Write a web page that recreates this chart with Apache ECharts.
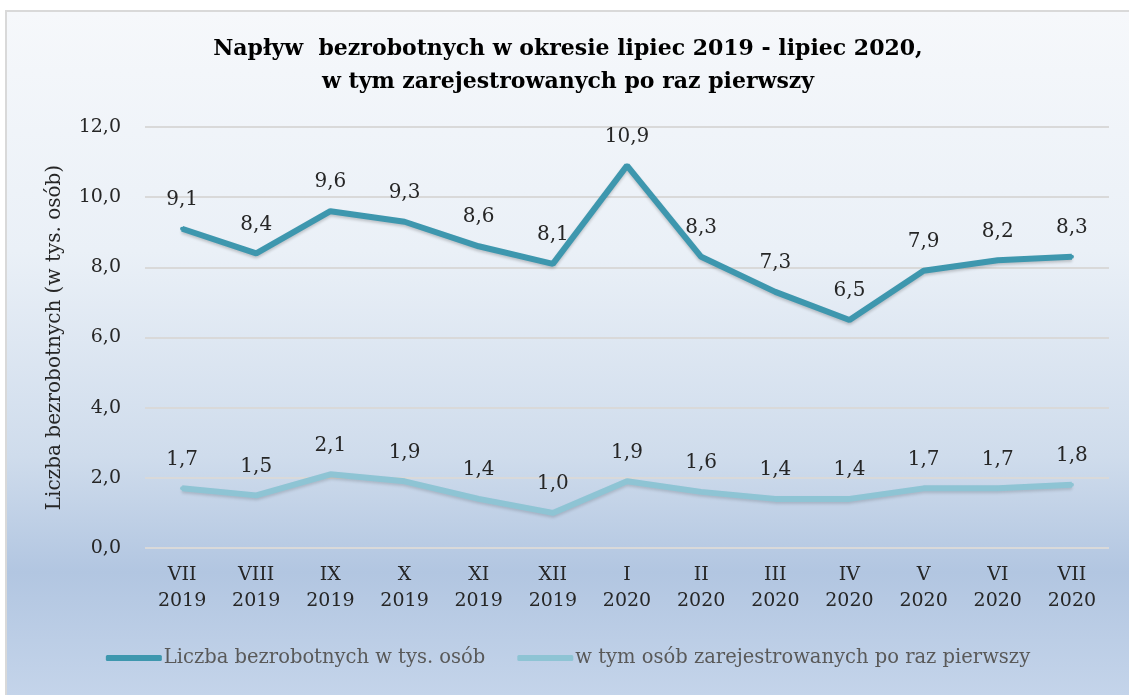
<!DOCTYPE html>
<html>
<head>
<meta charset="utf-8">
<script src="https://cdn.jsdelivr.net/npm/echarts@6/dist/echarts.min.js"></script>
<style>
  html, body { margin: 0; padding: 0; background: #fff; }
  #main {
    position: absolute; left: 5px; top: 10px; width: 1124px; height: 685px;
    box-sizing: border-box;
    border-left: 2px solid #d9d9d9; border-top: 2px solid #d9d9d9;
    background: linear-gradient(to bottom, #f6f8fb 0%, #eaf0f7 35%, #cfdcec 65%, #b2c6e1 82%, #c4d4ea 100%);
  }
</style>
</head>
<body>
<div id="main"></div>
<script>
var months = ['VII\n2019', 'VIII\n2019', 'IX\n2019', 'X\n2019', 'XI\n2019', 'XII\n2019',
    'I\n2020', 'II\n2020', 'III\n2020', 'IV\n2020', 'V\n2020', 'VI\n2020', 'VII\n2020'];
var bezrobotni = [9.1, 8.4, 9.6, 9.3, 8.6, 8.1, 10.9, 8.3, 7.3, 6.5, 7.9, 8.2, 8.3];
var pierwszyRaz = [1.7, 1.5, 2.1, 1.9, 1.4, 1.0, 1.9, 1.6, 1.4, 1.4, 1.7, 1.7, 1.8];
var seriesNames = ['Liczba bezrobotnych w tys. osób', 'w tym osób zarejestrowanych po raz pierwszy'];

var font = '"DejaVu Serif", "Liberation Serif", serif';
var fmt = function (v) { return Number(v).toFixed(1).replace('.', ','); };

var myChart = echarts.init(document.getElementById('main'));
var option = {
    backgroundColor: 'transparent',
    title: {
        text: 'Napływ  bezrobotnych w okresie lipiec 2019 - lipiec 2020,\nw tym zarejestrowanych po raz pierwszy',
        left: 'center',
        top: 16,
        textStyle: { fontFamily: font, fontSize: 22, fontWeight: 'bold', color: '#000', lineHeight: 33 }
    },
    legend: {
        bottom: 22,
        left: 'center',
        itemWidth: 56,
        itemHeight: 6,
        itemGap: 32,
        icon: 'roundRect',
        textStyle: { fontFamily: font, fontSize: 19.5, color: '#595959', padding: [0, 0, 0, -3] },
        data: seriesNames
    },
    grid: { left: 138, right: 20, top: 115, bottom: 147 },
    xAxis: {
        type: 'category',
        data: months,
        axisLine: { show: false },
        axisTick: { show: false },
        axisLabel: { fontFamily: font, fontSize: 19, color: '#262626', lineHeight: 26, margin: 14 }
    },
    yAxis: {
        type: 'value',
        min: 0, max: 12, interval: 2,
        name: 'Liczba bezrobotnych (w tys. osób)',
        nameLocation: 'middle',
        nameGap: 80,
        nameTextStyle: { fontFamily: font, fontSize: 20, color: '#262626' },
        axisLabel: { fontFamily: font, fontSize: 19, color: '#262626', margin: 24, formatter: fmt },
        splitLine: { lineStyle: { color: '#d9d9d9', width: 2 } }
    },
    series: [
        {
            name: seriesNames[0],
            type: 'line',
            data: bezrobotni,
            symbol: 'circle',
            symbolSize: 4,
            showSymbol: true,
            itemStyle: { color: '#3e97ae' },
            lineStyle: { width: 6, color: '#3e97ae', shadowBlur: 3, shadowOffsetY: 2, shadowColor: 'rgba(0,0,0,0.2)' },
            label: { show: true, position: 'top', distance: 17, formatter: function (p) { return fmt(p.value); },
                fontFamily: font, fontSize: 20, color: '#262626' }
        },
        {
            name: seriesNames[1],
            type: 'line',
            data: pierwszyRaz,
            symbol: 'circle',
            symbolSize: 4,
            showSymbol: true,
            itemStyle: { color: '#8ec4d4' },
            lineStyle: { width: 6, color: '#8ec4d4', shadowBlur: 3, shadowOffsetY: 2, shadowColor: 'rgba(0,0,0,0.15)' },
            label: { show: true, position: 'top', distance: 17, formatter: function (p) { return fmt(p.value); },
                fontFamily: font, fontSize: 20, color: '#262626' }
        }
    ]
};
myChart.setOption(option);
</script>
</body>
</html>
